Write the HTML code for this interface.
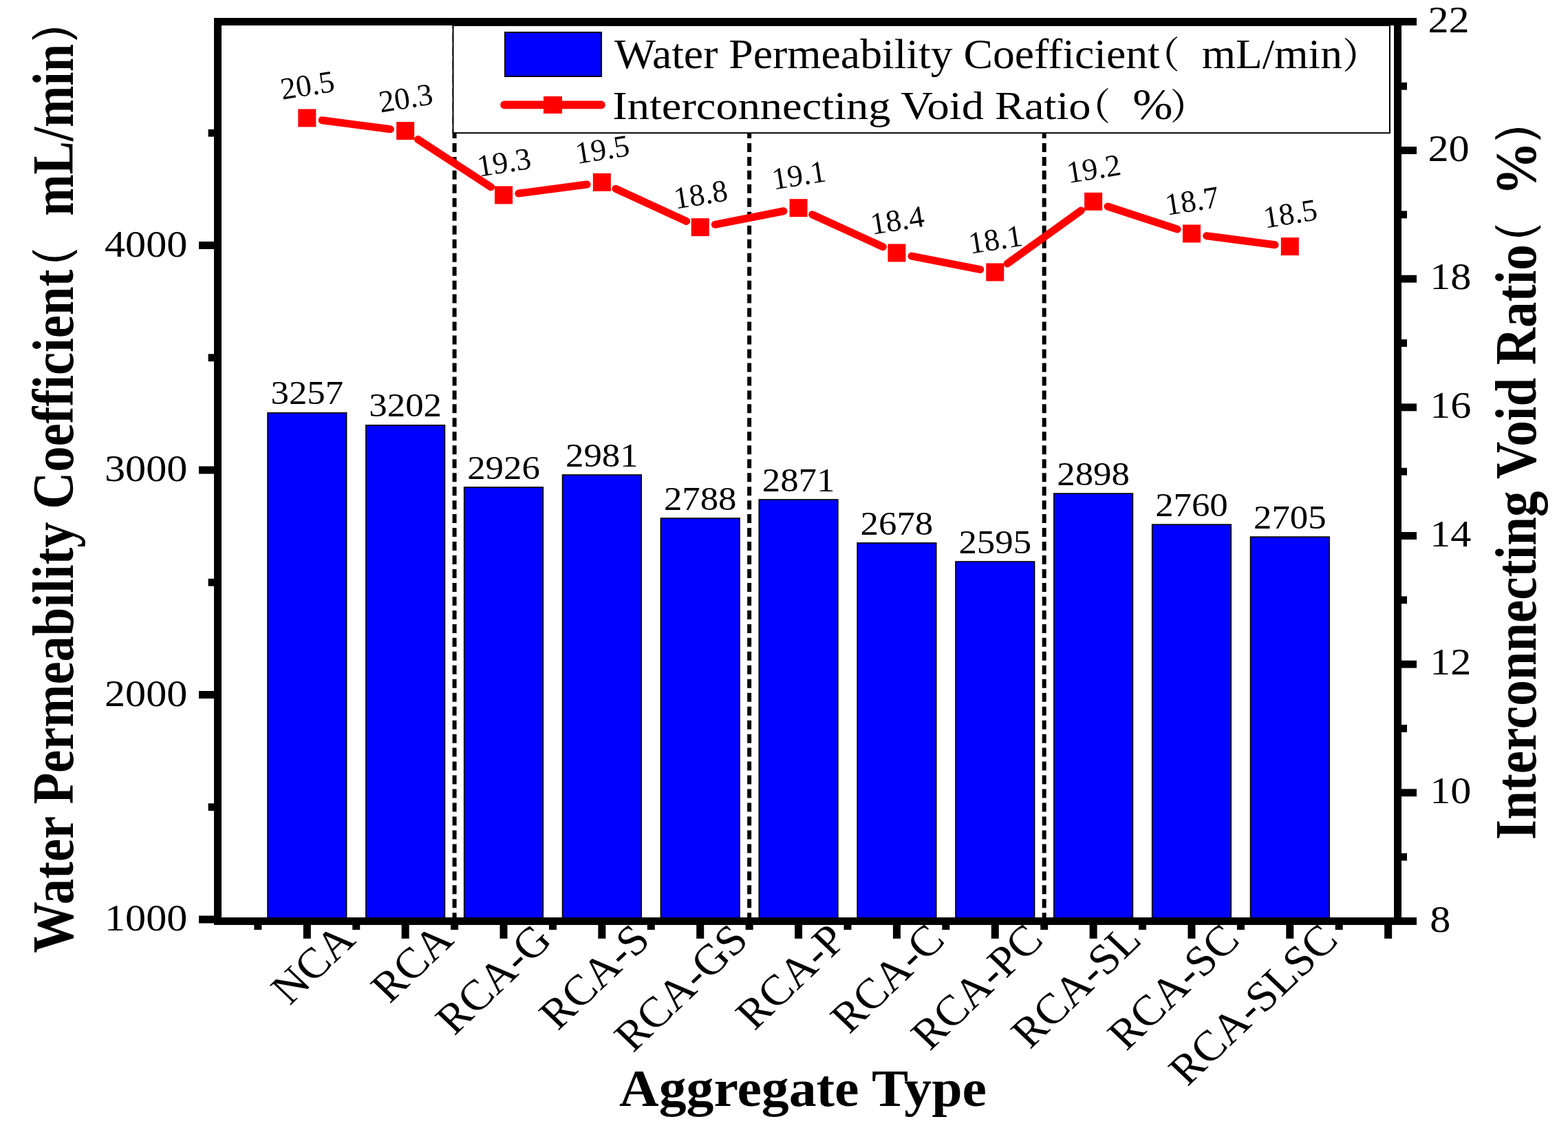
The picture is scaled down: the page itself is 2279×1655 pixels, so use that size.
<!DOCTYPE html>
<html><head><meta charset="utf-8"><title>Water Permeability Coefficient and Interconnecting Void Ratio by Aggregate Type</title>
<style>html,body{margin:0;padding:0;background:#fff;overflow:hidden;} svg{display:block;}</style></head>
<body><svg width="2279" height="1655" viewBox="0 0 2279 1655">
<rect x="0" y="0" width="2279" height="1655" fill="#fff"/>
<rect x="389.05" y="599.94" width="114.50" height="738.91" fill="#0000ff" stroke="#000" stroke-width="1.7"/>
<rect x="531.90" y="617.90" width="114.50" height="720.95" fill="#0000ff" stroke="#000" stroke-width="1.7"/>
<rect x="674.75" y="708.01" width="114.50" height="630.84" fill="#0000ff" stroke="#000" stroke-width="1.7"/>
<rect x="817.60" y="690.05" width="114.50" height="648.80" fill="#0000ff" stroke="#000" stroke-width="1.7"/>
<rect x="960.45" y="753.07" width="114.50" height="585.78" fill="#0000ff" stroke="#000" stroke-width="1.7"/>
<rect x="1103.30" y="725.97" width="114.50" height="612.88" fill="#0000ff" stroke="#000" stroke-width="1.7"/>
<rect x="1246.15" y="788.98" width="114.50" height="549.87" fill="#0000ff" stroke="#000" stroke-width="1.7"/>
<rect x="1389.00" y="816.08" width="114.50" height="522.77" fill="#0000ff" stroke="#000" stroke-width="1.7"/>
<rect x="1531.85" y="717.15" width="114.50" height="621.70" fill="#0000ff" stroke="#000" stroke-width="1.7"/>
<rect x="1674.70" y="762.21" width="114.50" height="576.64" fill="#0000ff" stroke="#000" stroke-width="1.7"/>
<rect x="1817.55" y="780.17" width="114.50" height="558.68" fill="#0000ff" stroke="#000" stroke-width="1.7"/>
<line x1="660.58" y1="28.2" x2="660.58" y2="1334" stroke="#000" stroke-width="6" stroke-dasharray="13 6.97"/>
<line x1="1089.12" y1="28.2" x2="1089.12" y2="1334" stroke="#000" stroke-width="6" stroke-dasharray="13 6.97"/>
<line x1="1517.67" y1="28.2" x2="1517.67" y2="1334" stroke="#000" stroke-width="6" stroke-dasharray="13 6.97"/>
<path d="M468.11,174.73L567.34,187.69 M607.57,202.57L713.58,271.84 M753.81,281.02L853.04,268.06 M894.86,274.35L997.69,321.39 M1039.29,326.30L1138.96,306.77 M1180.56,311.69L1283.39,358.72 M1324.99,372.10L1424.66,391.64 M1464.11,383.03L1571.24,306.04 M1610.01,300.04L1711.04,333.04 M1753.76,342.72L1852.99,355.68" stroke="#ff0000" stroke-width="11.0" stroke-linecap="round" fill="none"/>
<rect x="433.30" y="158.47" width="26" height="26" fill="#ff0000"/>
<rect x="576.15" y="177.14" width="26" height="26" fill="#ff0000"/>
<rect x="719.00" y="270.47" width="26" height="26" fill="#ff0000"/>
<rect x="861.85" y="251.80" width="26" height="26" fill="#ff0000"/>
<rect x="1004.70" y="317.14" width="26" height="26" fill="#ff0000"/>
<rect x="1147.55" y="289.14" width="26" height="26" fill="#ff0000"/>
<rect x="1290.40" y="354.47" width="26" height="26" fill="#ff0000"/>
<rect x="1433.25" y="382.47" width="26" height="26" fill="#ff0000"/>
<rect x="1576.10" y="279.80" width="26" height="26" fill="#ff0000"/>
<rect x="1718.95" y="326.47" width="26" height="26" fill="#ff0000"/>
<rect x="1861.80" y="345.13" width="26" height="26" fill="#ff0000"/>
<rect x="658.5" y="36.9" width="1361.5" height="156.3" fill="#fff" stroke="#000" stroke-width="2"/>
<rect x="734" y="47" width="140" height="64" fill="#0000ff" stroke="#000" stroke-width="2"/>
<path d="M733,152.4H874" stroke="#ff0000" stroke-width="11.6" stroke-linecap="round"/>
<rect x="790" y="140" width="27" height="25" fill="#ff0000"/>
<text transform="translate(892.94,99.15) scale(1.0366,1)" font-size="61.43" style="font-family:'Liberation Serif','Times New Roman',serif">Water Permeability Coefficient</text>
<text transform="translate(1660.56,98.81) scale(1.0068,1)" font-size="53.72" style="font-family:'Liberation Serif','Noto Serif CJK SC',serif;font-weight:600">（</text>
<text transform="translate(1746.67,98.99) scale(1.0463,1)" font-size="60.57" style="font-family:'Liberation Serif','Times New Roman',serif">mL/min</text>
<text transform="translate(1951.16,98.56) scale(1.0376,1)" font-size="52.12" style="font-family:'Liberation Serif','Noto Serif CJK SC',serif;font-weight:600">）</text>
<text transform="translate(890.28,173.36) scale(1.1216,1)" font-size="57.43" style="font-family:'Liberation Serif','Times New Roman',serif">Interconnecting Void Ratio</text>
<text transform="translate(1560.06,173.88) scale(1.0009,1)" font-size="54.03" style="font-family:'Liberation Serif','Noto Serif CJK SC',serif;font-weight:600">（</text>
<text transform="translate(1646.32,173.39) scale(1.1183,1)" font-size="62.54" style="font-family:'Liberation Serif','Times New Roman',serif">%</text>
<text transform="translate(1700.66,173.38) scale(1.0418,1)" font-size="51.91" style="font-family:'Liberation Serif','Noto Serif CJK SC',serif;font-weight:600">）</text>
<rect x="311" y="26" width="11" height="1318" fill="#000"/>
<rect x="311" y="26" width="1748" height="11" fill="#000"/>
<rect x="2026" y="26" width="11" height="1318" fill="#000"/>
<rect x="311" y="1333" width="1748" height="11" fill="#000"/>
<rect x="289" y="1330.50" width="22" height="11" fill="#000"/>
<rect x="289" y="1004.00" width="22" height="11" fill="#000"/>
<rect x="289" y="677.50" width="22" height="11" fill="#000"/>
<rect x="289" y="351.00" width="22" height="11" fill="#000"/>
<rect x="302.6" y="1167.35" width="8.4" height="10.8" fill="#000"/>
<rect x="302.6" y="840.85" width="8.4" height="10.8" fill="#000"/>
<rect x="302.6" y="514.35" width="8.4" height="10.8" fill="#000"/>
<rect x="302.6" y="187.85" width="8.4" height="10.8" fill="#000"/>
<rect x="2037" y="1146.39" width="22" height="10.9" fill="#000"/>
<rect x="2037" y="959.73" width="22" height="10.9" fill="#000"/>
<rect x="2037" y="773.07" width="22" height="10.9" fill="#000"/>
<rect x="2037" y="586.41" width="22" height="10.9" fill="#000"/>
<rect x="2037" y="399.75" width="22" height="10.9" fill="#000"/>
<rect x="2037" y="213.09" width="22" height="10.9" fill="#000"/>
<rect x="2037" y="1239.77" width="8" height="10.8" fill="#000"/>
<rect x="2037" y="1053.11" width="8" height="10.8" fill="#000"/>
<rect x="2037" y="866.45" width="8" height="10.8" fill="#000"/>
<rect x="2037" y="679.79" width="8" height="10.8" fill="#000"/>
<rect x="2037" y="493.13" width="8" height="10.8" fill="#000"/>
<rect x="2037" y="306.47" width="8" height="10.8" fill="#000"/>
<rect x="2037" y="119.81" width="8" height="10.8" fill="#000"/>
<rect x="440.80" y="1343.5" width="11" height="20.3" fill="#000"/>
<rect x="369.38" y="1343.5" width="11" height="7.5" fill="#000"/>
<rect x="583.65" y="1343.5" width="11" height="20.3" fill="#000"/>
<rect x="512.23" y="1343.5" width="11" height="7.5" fill="#000"/>
<rect x="726.50" y="1343.5" width="11" height="20.3" fill="#000"/>
<rect x="655.08" y="1343.5" width="11" height="7.5" fill="#000"/>
<rect x="869.35" y="1343.5" width="11" height="20.3" fill="#000"/>
<rect x="797.92" y="1343.5" width="11" height="7.5" fill="#000"/>
<rect x="1012.20" y="1343.5" width="11" height="20.3" fill="#000"/>
<rect x="940.78" y="1343.5" width="11" height="7.5" fill="#000"/>
<rect x="1155.05" y="1343.5" width="11" height="20.3" fill="#000"/>
<rect x="1083.62" y="1343.5" width="11" height="7.5" fill="#000"/>
<rect x="1297.90" y="1343.5" width="11" height="20.3" fill="#000"/>
<rect x="1226.47" y="1343.5" width="11" height="7.5" fill="#000"/>
<rect x="1440.75" y="1343.5" width="11" height="20.3" fill="#000"/>
<rect x="1369.33" y="1343.5" width="11" height="7.5" fill="#000"/>
<rect x="1583.60" y="1343.5" width="11" height="20.3" fill="#000"/>
<rect x="1512.17" y="1343.5" width="11" height="7.5" fill="#000"/>
<rect x="1726.45" y="1343.5" width="11" height="20.3" fill="#000"/>
<rect x="1655.02" y="1343.5" width="11" height="7.5" fill="#000"/>
<rect x="1869.30" y="1343.5" width="11" height="20.3" fill="#000"/>
<rect x="1797.88" y="1343.5" width="11" height="7.5" fill="#000"/>
<rect x="2012.15" y="1343.5" width="11" height="20.3" fill="#000"/>
<rect x="1940.72" y="1343.5" width="11" height="7.5" fill="#000"/>
<text transform="translate(272.40,1352.00) scale(1.0850,1)" font-size="55.50" style="font-family:'Liberation Serif','Times New Roman',serif" text-anchor="end">1000</text>
<text transform="translate(272.40,1025.50) scale(1.0850,1)" font-size="55.50" style="font-family:'Liberation Serif','Times New Roman',serif" text-anchor="end">2000</text>
<text transform="translate(272.40,699.00) scale(1.0850,1)" font-size="55.50" style="font-family:'Liberation Serif','Times New Roman',serif" text-anchor="end">3000</text>
<text transform="translate(272.40,372.50) scale(1.0850,1)" font-size="55.50" style="font-family:'Liberation Serif','Times New Roman',serif" text-anchor="end">4000</text>
<text transform="translate(2078.20,1353.50) scale(1.0850,1)" font-size="55.50" style="font-family:'Liberation Serif','Times New Roman',serif">8</text>
<text transform="translate(2078.20,1166.84) scale(1.0850,1)" font-size="55.50" style="font-family:'Liberation Serif','Times New Roman',serif">10</text>
<text transform="translate(2078.20,980.18) scale(1.0850,1)" font-size="55.50" style="font-family:'Liberation Serif','Times New Roman',serif">12</text>
<text transform="translate(2078.20,793.52) scale(1.0850,1)" font-size="55.50" style="font-family:'Liberation Serif','Times New Roman',serif">14</text>
<text transform="translate(2078.20,606.86) scale(1.0850,1)" font-size="55.50" style="font-family:'Liberation Serif','Times New Roman',serif">16</text>
<text transform="translate(2078.20,420.20) scale(1.0850,1)" font-size="55.50" style="font-family:'Liberation Serif','Times New Roman',serif">18</text>
<text transform="translate(2075.40,233.54) scale(1.0850,1)" font-size="55.50" style="font-family:'Liberation Serif','Times New Roman',serif">20</text>
<text transform="translate(2075.40,46.88) scale(1.0850,1)" font-size="55.50" style="font-family:'Liberation Serif','Times New Roman',serif">22</text>
<text class="bl" transform="translate(446.30,587.49) scale(1.1000,1)" font-size="48.00" style="font-family:'Liberation Serif','Times New Roman',serif" text-anchor="middle">3257</text>
<text class="bl" transform="translate(589.15,605.45) scale(1.1000,1)" font-size="48.00" style="font-family:'Liberation Serif','Times New Roman',serif" text-anchor="middle">3202</text>
<text class="bl" transform="translate(732.00,695.56) scale(1.1000,1)" font-size="48.00" style="font-family:'Liberation Serif','Times New Roman',serif" text-anchor="middle">2926</text>
<text class="bl" transform="translate(874.85,677.60) scale(1.1000,1)" font-size="48.00" style="font-family:'Liberation Serif','Times New Roman',serif" text-anchor="middle">2981</text>
<text class="bl" transform="translate(1017.70,740.62) scale(1.1000,1)" font-size="48.00" style="font-family:'Liberation Serif','Times New Roman',serif" text-anchor="middle">2788</text>
<text class="bl" transform="translate(1160.55,713.52) scale(1.1000,1)" font-size="48.00" style="font-family:'Liberation Serif','Times New Roman',serif" text-anchor="middle">2871</text>
<text class="bl" transform="translate(1303.40,776.53) scale(1.1000,1)" font-size="48.00" style="font-family:'Liberation Serif','Times New Roman',serif" text-anchor="middle">2678</text>
<text class="bl" transform="translate(1446.25,803.63) scale(1.1000,1)" font-size="48.00" style="font-family:'Liberation Serif','Times New Roman',serif" text-anchor="middle">2595</text>
<text class="bl" transform="translate(1589.10,704.70) scale(1.1000,1)" font-size="48.00" style="font-family:'Liberation Serif','Times New Roman',serif" text-anchor="middle">2898</text>
<text class="bl" transform="translate(1731.95,749.76) scale(1.1000,1)" font-size="48.00" style="font-family:'Liberation Serif','Times New Roman',serif" text-anchor="middle">2760</text>
<text class="bl" transform="translate(1874.80,767.72) scale(1.1000,1)" font-size="48.00" style="font-family:'Liberation Serif','Times New Roman',serif" text-anchor="middle">2705</text>
<text class="ll" transform="translate(449.20,138.57) rotate(-9.000)" font-size="45.00" style="font-family:'Liberation Serif','Times New Roman',serif" text-anchor="middle">20.5</text>
<text class="ll" transform="translate(592.05,157.24) rotate(-9.000)" font-size="45.00" style="font-family:'Liberation Serif','Times New Roman',serif" text-anchor="middle">20.3</text>
<text class="ll" transform="translate(734.90,250.57) rotate(-9.000)" font-size="45.00" style="font-family:'Liberation Serif','Times New Roman',serif" text-anchor="middle">19.3</text>
<text class="ll" transform="translate(877.75,231.90) rotate(-9.000)" font-size="45.00" style="font-family:'Liberation Serif','Times New Roman',serif" text-anchor="middle">19.5</text>
<text class="ll" transform="translate(1020.60,297.24) rotate(-9.000)" font-size="45.00" style="font-family:'Liberation Serif','Times New Roman',serif" text-anchor="middle">18.8</text>
<text class="ll" transform="translate(1163.45,269.24) rotate(-9.000)" font-size="45.00" style="font-family:'Liberation Serif','Times New Roman',serif" text-anchor="middle">19.1</text>
<text class="ll" transform="translate(1306.30,334.57) rotate(-9.000)" font-size="45.00" style="font-family:'Liberation Serif','Times New Roman',serif" text-anchor="middle">18.4</text>
<text class="ll" transform="translate(1449.15,362.57) rotate(-9.000)" font-size="45.00" style="font-family:'Liberation Serif','Times New Roman',serif" text-anchor="middle">18.1</text>
<text class="ll" transform="translate(1592.00,259.90) rotate(-9.000)" font-size="45.00" style="font-family:'Liberation Serif','Times New Roman',serif" text-anchor="middle">19.2</text>
<text class="ll" transform="translate(1734.85,306.57) rotate(-9.000)" font-size="45.00" style="font-family:'Liberation Serif','Times New Roman',serif" text-anchor="middle">18.7</text>
<text class="ll" transform="translate(1877.70,325.23) rotate(-9.000)" font-size="45.00" style="font-family:'Liberation Serif','Times New Roman',serif" text-anchor="middle">18.5</text>
<text class="cl" transform="translate(518.90,1368.60) scale(1.0500,1) rotate(-45.000)" font-size="62.50" style="font-family:'Liberation Serif','Times New Roman',serif" text-anchor="end">NCA</text>
<text class="cl" transform="translate(661.75,1368.60) scale(1.0500,1) rotate(-45.000)" font-size="62.50" style="font-family:'Liberation Serif','Times New Roman',serif" text-anchor="end">RCA</text>
<text class="cl" transform="translate(804.60,1368.60) scale(1.0500,1) rotate(-45.000)" font-size="62.50" style="font-family:'Liberation Serif','Times New Roman',serif" text-anchor="end">RCA-G</text>
<text class="cl" transform="translate(947.45,1368.60) scale(1.0500,1) rotate(-45.000)" font-size="62.50" style="font-family:'Liberation Serif','Times New Roman',serif" text-anchor="end">RCA-S</text>
<text class="cl" transform="translate(1090.30,1368.60) scale(1.0500,1) rotate(-45.000)" font-size="62.50" style="font-family:'Liberation Serif','Times New Roman',serif" text-anchor="end">RCA-GS</text>
<text class="cl" transform="translate(1233.15,1368.60) scale(1.0500,1) rotate(-45.000)" font-size="62.50" style="font-family:'Liberation Serif','Times New Roman',serif" text-anchor="end">RCA-P</text>
<text class="cl" transform="translate(1376.00,1368.60) scale(1.0500,1) rotate(-45.000)" font-size="62.50" style="font-family:'Liberation Serif','Times New Roman',serif" text-anchor="end">RCA-C</text>
<text class="cl" transform="translate(1518.85,1368.60) scale(1.0500,1) rotate(-45.000)" font-size="62.50" style="font-family:'Liberation Serif','Times New Roman',serif" text-anchor="end">RCA-PC</text>
<text class="cl" transform="translate(1661.70,1368.60) scale(1.0500,1) rotate(-45.000)" font-size="62.50" style="font-family:'Liberation Serif','Times New Roman',serif" text-anchor="end">RCA-SL</text>
<text class="cl" transform="translate(1804.55,1368.60) scale(1.0500,1) rotate(-45.000)" font-size="62.50" style="font-family:'Liberation Serif','Times New Roman',serif" text-anchor="end">RCA-SC</text>
<text class="cl" transform="translate(1947.40,1368.60) scale(1.0500,1) rotate(-45.000)" font-size="62.50" style="font-family:'Liberation Serif','Times New Roman',serif" text-anchor="end">RCA-SLSC</text>
<text transform="translate(900.10,1607.00) scale(1.0488,1)" font-size="76.06" style="font-family:'Liberation Serif','Times New Roman',serif;font-weight:bold">Aggregate Type</text>
<text transform="translate(105.90,1384.74) scale(1.1325,1) rotate(-90)" font-size="74.62" style="font-family:'Liberation Serif','Times New Roman',serif;font-weight:bold">Water Permeability Coefficient</text>
<text transform="translate(98.95,434.97) scale(0.8909,1) rotate(-90)" font-size="85.00" style="font-family:'Liberation Serif','WenQuanYi Zen Hei',sans-serif">（</text>
<text transform="translate(105.90,313.76) scale(1.1656,1) rotate(-90)" font-size="72.49" style="font-family:'Liberation Serif','Times New Roman',serif;font-weight:bold">mL/min</text>
<text transform="translate(99.07,70.91) scale(0.8912,1) rotate(-90)" font-size="85.50" style="font-family:'Liberation Serif','WenQuanYi Zen Hei',sans-serif">）</text>
<text transform="translate(2232.10,1220.15) scale(1.1218,1) rotate(-90)" font-size="74.97" style="font-family:'Liberation Serif','Times New Roman',serif;font-weight:bold">Interconnecting Void Ratio</text>
<text transform="translate(2225.83,398.52) scale(0.9168,1) rotate(-90)" font-size="84.00" style="font-family:'Liberation Serif','WenQuanYi Zen Hei',sans-serif">（</text>
<text transform="translate(2231.81,284.31) scale(1.0701,1) rotate(-90)" font-size="78.70" style="font-family:'Liberation Serif','Times New Roman',serif;font-weight:bold">%</text>
<text transform="translate(2225.83,216.29) scale(0.8955,1) rotate(-90)" font-size="86.00" style="font-family:'Liberation Serif','WenQuanYi Zen Hei',sans-serif">）</text>
</svg></body></html>
